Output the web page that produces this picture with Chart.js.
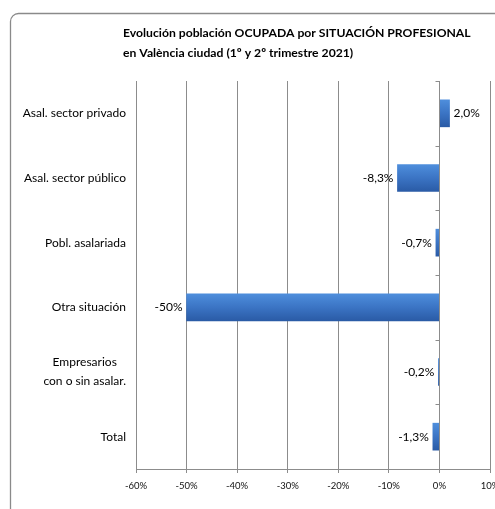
<!DOCTYPE html>
<html>
<head>
<meta charset="utf-8">
<script src="https://cdn.jsdelivr.net/npm/chart.js@4/dist/chart.umd.min.js"></script>
<style>
  html, body { margin: 0; padding: 0; background: #fff; }
</style>
</head>
<body>
<canvas id="situacionChart" width="495" height="509"></canvas>
<script>
// Evolución población ocupada por situación profesional (València, 1º y 2º trim. 2021)

const titleLines = [
    'Evolución población OCUPADA por SITUACIÓN PROFESIONAL',
    'en València ciudad (1º y 2º trimestre 2021)'
];
const categories = [
    ['Asal. sector privado'],
    ['Asal. sector público'],
    ['Pobl. asalariada'],
    ['Otra situación'],
    ['Empresarios', 'con o sin asalar.'],
    ['Total']
];
const variacion = [2.0, -8.3, -0.7, -50, -0.2, -1.3];
const variacionLabels = ['2,0%', '-8,3%', '-0,7%', '-50%', '-0,2%', '-1,3%'];
const xTicks = [-60, -50, -40, -30, -20, -10, 0, 10];

const FONT = 'Lato, "Open Sans", sans-serif';
const GRID = '#8c8c8c';
const BAR_H = 27;

Chart.defaults.font.family = FONT;
Chart.defaults.color = '#111';

// blue bars with a vertical gradient, like the Excel original
function barGradient(c) {
    const chart = c.chart;
    const ys = chart.scales.y;
    if (!ys || c.dataIndex === undefined) return '#3a72c2';
    const cy = ys.getPixelForValue(c.dataIndex);
    if (!isFinite(cy)) return '#3a72c2';
    const g = chart.ctx.createLinearGradient(0, cy - BAR_H / 2, 0, cy + BAR_H / 2);
    g.addColorStop(0, '#4e8edc');
    g.addColorStop(0.5, '#3b74c4');
    g.addColorStop(1, '#2a5ba6');
    return g;
}

const framePlugin = {
    id: 'frame',
    beforeDraw(chart) {
        const ctx = chart.ctx;
        ctx.save();
        ctx.strokeStyle = '#8a8a8a';
        ctx.lineWidth = 1.3;
        ctx.beginPath();
        ctx.roundRect(10.5, 13.5, 520, 520, 8);
        ctx.stroke();

        ctx.fillStyle = '#000';
        ctx.font = 'bold 12.2px ' + FONT;
        ctx.textAlign = 'left';
        ctx.textBaseline = 'middle';
        ctx.fillText(titleLines[0], 123, 33);
        ctx.fillText(titleLines[1], 123, 53);
        ctx.restore();
    },
    afterDatasetsDraw(chart) {
        const ctx = chart.ctx;
        const xs = chart.scales.x;
        const ys = chart.scales.y;
        const area = chart.chartArea;
        const x0 = Math.round(xs.getPixelForValue(0)) + 0.5;

        // vertical category axis crossing at 0 with tick marks
        ctx.save();
        ctx.strokeStyle = GRID;
        ctx.lineWidth = 1;
        ctx.beginPath();
        ctx.moveTo(x0, area.top);
        ctx.lineTo(x0, area.bottom);
        for (let i = 0; i <= categories.length; i++) {
            const y = Math.round(ys.getPixelForValue(i - 0.5)) + 0.5;
            ctx.moveTo(x0 - 4, y);
            ctx.lineTo(x0, y);
        }
        ctx.stroke();

        // category labels (multi-line block right aligned, lines centred)
        ctx.fillStyle = '#000';
        ctx.font = '12px ' + FONT;
        ctx.textBaseline = 'middle';
        ctx.textAlign = 'center';
        const right = area.left - 10;
        const lineH = 19;
        categories.forEach((lines, i) => {
            const cy = ys.getPixelForValue(i);
            const w = Math.max(...lines.map(l => ctx.measureText(l).width));
            lines.forEach((l, k) => {
                const y = cy + (k - (lines.length - 1) / 2) * lineH;
                ctx.fillText(l, right - w / 2, y);
            });
        });

        // value labels
        const meta = chart.getDatasetMeta(0);
        meta.data.forEach((bar, i) => {
            const v = variacion[i];
            ctx.textAlign = v >= 0 ? 'left' : 'right';
            ctx.fillText(variacionLabels[i], bar.x + (v >= 0 ? 4 : -4), bar.y);
        });
        ctx.restore();
    }
};

new Chart(document.getElementById('situacionChart'), {
    type: 'bar',
    data: {
        labels: categories,
        datasets: [{
            data: variacion,
            backgroundColor: barGradient,
            borderWidth: 0,
            barThickness: BAR_H
        }]
    },
    options: {
        indexAxis: 'y',
        responsive: false,
        devicePixelRatio: 1,
        animation: false,
        layout: { padding: { top: 81, right: 5, left: 0, bottom: 0 } },
        plugins: {
            legend: { display: false },
            title: { display: false },
            tooltip: { enabled: false }
        },
        scales: {
            x: {
                min: -60,
                max: 10,
                afterBuildTicks: s => { s.ticks = xTicks.map(v => ({ value: v })); },
                afterFit: s => { s.height = 40; s.paddingLeft = 0; s.paddingRight = 0; },
                grid: { color: GRID, lineWidth: 1, tickLength: 4, drawTicks: true },
                border: { display: true, color: GRID },
                ticks: {
                    padding: 7,
                    color: '#111',
                    font: { size: 9.5 },
                    callback: v => v + '%'
                }
            },
            y: {
                afterFit: s => { s.width = 136; },
                grid: { display: false },
                border: { display: false },
                ticks: { display: false }
            }
        }
    },
    plugins: [framePlugin]
});
</script>
</body>
</html>
